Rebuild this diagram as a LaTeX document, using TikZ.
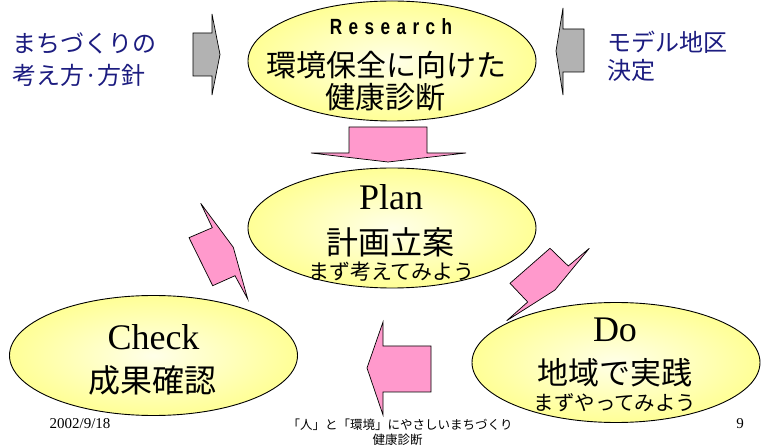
\documentclass[tikz,border=0pt]{standalone}
\usepackage{fontspec}
\setmainfont{Liberation Serif}
\newfontfamily\jp{Noto Sans CJK JP}
\newfontfamily\narrowsans[FakeStretch=0.78]{Liberation Sans}
\usetikzlibrary{shapes.geometric}
\definecolor{navy}{RGB}{28,28,128}
\definecolor{pinkarrow}{RGB}{255,153,204}
\definecolor{grayarrow}{RGB}{178,178,178}
\definecolor{ellin}{RGB}{255,255,232}
\definecolor{ellout}{RGB}{255,255,150}
\begin{document}
\begin{tikzpicture}[x=1pt,y=-1pt,
  phase/.style={ellipse,draw=black,line width=0.9pt,inner color=ellin,outer color=ellout,
    minimum width=288pt,minimum height=120pt,inner sep=0pt},
  jt/.style={inner sep=0pt,anchor=center,font=\jp\fontsize{#1}{#1}\selectfont},
  st/.style={inner sep=0pt,anchor=base,font=\fontsize{36}{36}\selectfont},
  side/.style={inner sep=0pt,anchor=west,text=navy,font=\jp\fontsize{24}{24}\selectfont},
  pinkblk/.style={fill=pinkarrow,draw=black,line width=0.7pt,line join=miter},
  grayblk/.style={fill=grayarrow,draw=black,line width=0.7pt,line join=miter},
  foot/.style={inner sep=0pt,anchor=center}]
\useasboundingbox[fill=white] (0,0) rectangle (761,446);

% block arrows
\draw[grayblk] (193,33) -- (212,33) -- (212,14) -- (220,54.5) -- (212,95) -- (212,76) -- (193,76) -- cycle;
\draw[grayblk] (584,29) -- (563,29) -- (563,8) -- (556,51) -- (563,95) -- (563,72) -- (584,72) -- cycle;
\draw[pinkblk] (349,127) -- (427,127) -- (427,153) -- (466,153) -- (388,162) -- (311,153) -- (349,153) -- cycle;
\draw[pinkblk] (431,346) -- (383,346) -- (383,322) -- (367,368) -- (383,415) -- (383,392) -- (431,392) -- cycle;
\draw[pinkblk] (189,237.7) -- (212.3,227.7) -- (200.7,203.3) -- (233.3,247.3) -- (247.7,299) -- (235,275.7) -- (212.7,285.7) -- cycle;
\draw[pinkblk] (510,283.3) -- (550,248.3) -- (568.3,266) -- (589.3,248.3) -- (555,290) -- (506.7,320.7) -- (527.7,302) -- cycle;

% ellipses
\node[phase] (research) at (392,61) {};
\node[phase] (plan) at (392,228) {};
\node[phase] (check) at (153.5,355.5) {};
\node[phase] (do) at (616,362.5) {};

% Research texts
\node[inner sep=0pt,anchor=base,font=\narrowsans\bfseries\fontsize{22}{22}\selectfont] (rtitle) at (391,35)
  {R\kern6.4pt e\kern6.4pt s\kern6.4pt e\kern6.4pt a\kern6.4pt r\kern6.4pt c\kern6.4pt h};
\node[jt=30] (r1) at (386.5,65) {環境保全に向けた};
\node[jt=30] (r2) at (385,97) {健康診断};

% Plan texts
\node[st] (ptitle) at (391,210) {Plan};
\node[jt=32] (p1) at (390.5,242) {計画立案};
\node[jt=21] (p2) at (391.5,272) {まず考えてみよう};

% Check texts
\node[st] (ctitle) at (153.5,350) {Check};
\node[jt=32] (c1) at (152.5,380) {成果確認};

% Do texts
\node[st] (dtitle) at (615,342) {Do};
\node[jt=31] (d1) at (615,373) {地域で実践};
\node[jt=20.5] (d2) at (615,403) {まずやってみよう};

% side texts
\node[side] (l1) at (12,43) {まちづくりの};
\node[side] (l2) at (12,75) {考え方·方針};
\node[side] (rr1) at (607,42) {モデル地区};
\node[side] (rr2) at (607,70) {決定};

% footer
\node[foot,font=\fontsize{15}{15}\selectfont] (date) at (80,424) {2002/9/18};
\node[foot,font=\jp\fontsize{12.5}{12.5}\selectfont] (f1) at (400,425) {「人」と「環境」にやさしいまちづくり};
\node[foot,font=\jp\fontsize{12.5}{12.5}\selectfont] (f2) at (397.5,440) {健康診断};
\node[foot,font=\fontsize{15}{15}\selectfont] (page) at (740,424) {9};
\end{tikzpicture}
\end{document}
